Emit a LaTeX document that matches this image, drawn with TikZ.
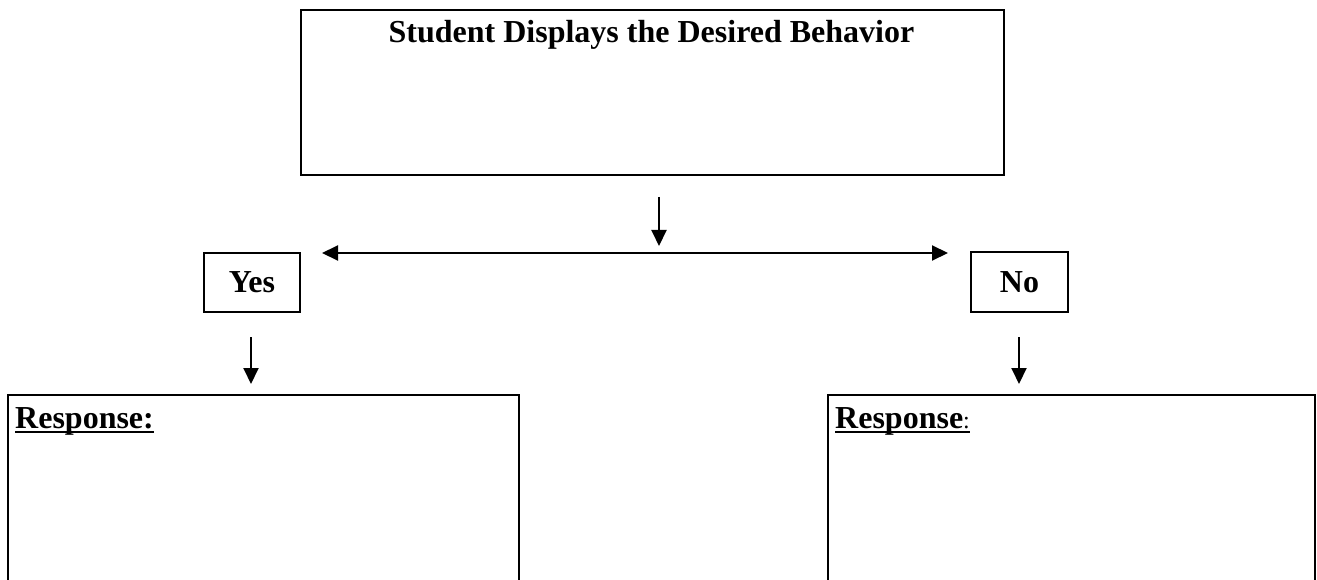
\documentclass[tikz,border=0pt]{standalone}
\usepackage{fontspec}
\setmainfont{Liberation Serif}
\usetikzlibrary{arrows.meta}
\begin{document}
\begin{tikzpicture}[x=1pt,y=-1pt,
  box/.style={draw,line width=2pt,rectangle,inner sep=0pt},
  txt/.style={font=\fontsize{32}{38}\selectfont\bfseries,inner sep=0pt},
  arr/.style={line width=2pt,-{Triangle[length=16pt,width=15pt]}},
  darr/.style={line width=2pt,{Triangle[length=16pt,width=15pt]}-{Triangle[length=16pt,width=15pt]}}]
\useasboundingbox (0,0) rectangle (1317,580);
% top box
\node[box,anchor=north west,minimum width=703pt,minimum height=165pt] (top) at (300,9) {};
\node[txt,anchor=base] (title) at (651.5,43) {Student Displays the Desired Behavior};
% yes / no
\node[box,anchor=north west,minimum width=96pt,minimum height=59pt,txt] (yes) at (203,252) {Yes};
\node[box,anchor=north west,minimum width=97pt,minimum height=60pt,txt] (no) at (970,251) {No};
% response boxes (bottom cut off by the page)
\begin{scope}
\clip (0,0) rectangle (1317,580);
\node[box,anchor=north west,minimum width=511pt,minimum height=220pt] (respL) at (7,394) {};
\node[box,anchor=north west,minimum width=487pt,minimum height=220pt] (respR) at (827,394) {};
\end{scope}
\node[txt,anchor=base west] (rl) at (15,428) {Response:};
\node[txt,anchor=base west] (rr) at (835,428) {Response\textmd{\fontsize{24}{28}\selectfont:}};
\draw[line width=1.6pt] ([yshift=-4pt]rl.base west) -- ([yshift=-4pt]rl.base east);
\draw[line width=1.6pt] ([yshift=-4pt]rr.base west) -- ([yshift=-4pt]rr.base east);
% connectors
\coordinate (c1) at (659,197);
\coordinate (c2) at (659,246);
\draw[arr] (c1) -- (c2);
\coordinate (hl) at (322,253);
\coordinate (hr) at (948,253);
\draw[darr] (hl) -- (hr);
\coordinate (y1) at (251,337);
\coordinate (y2) at (251,384);
\draw[arr] (y1) -- (y2);
\coordinate (n1) at (1019,337);
\coordinate (n2) at (1019,384);
\draw[arr] (n1) -- (n2);
\end{tikzpicture}
\end{document}
